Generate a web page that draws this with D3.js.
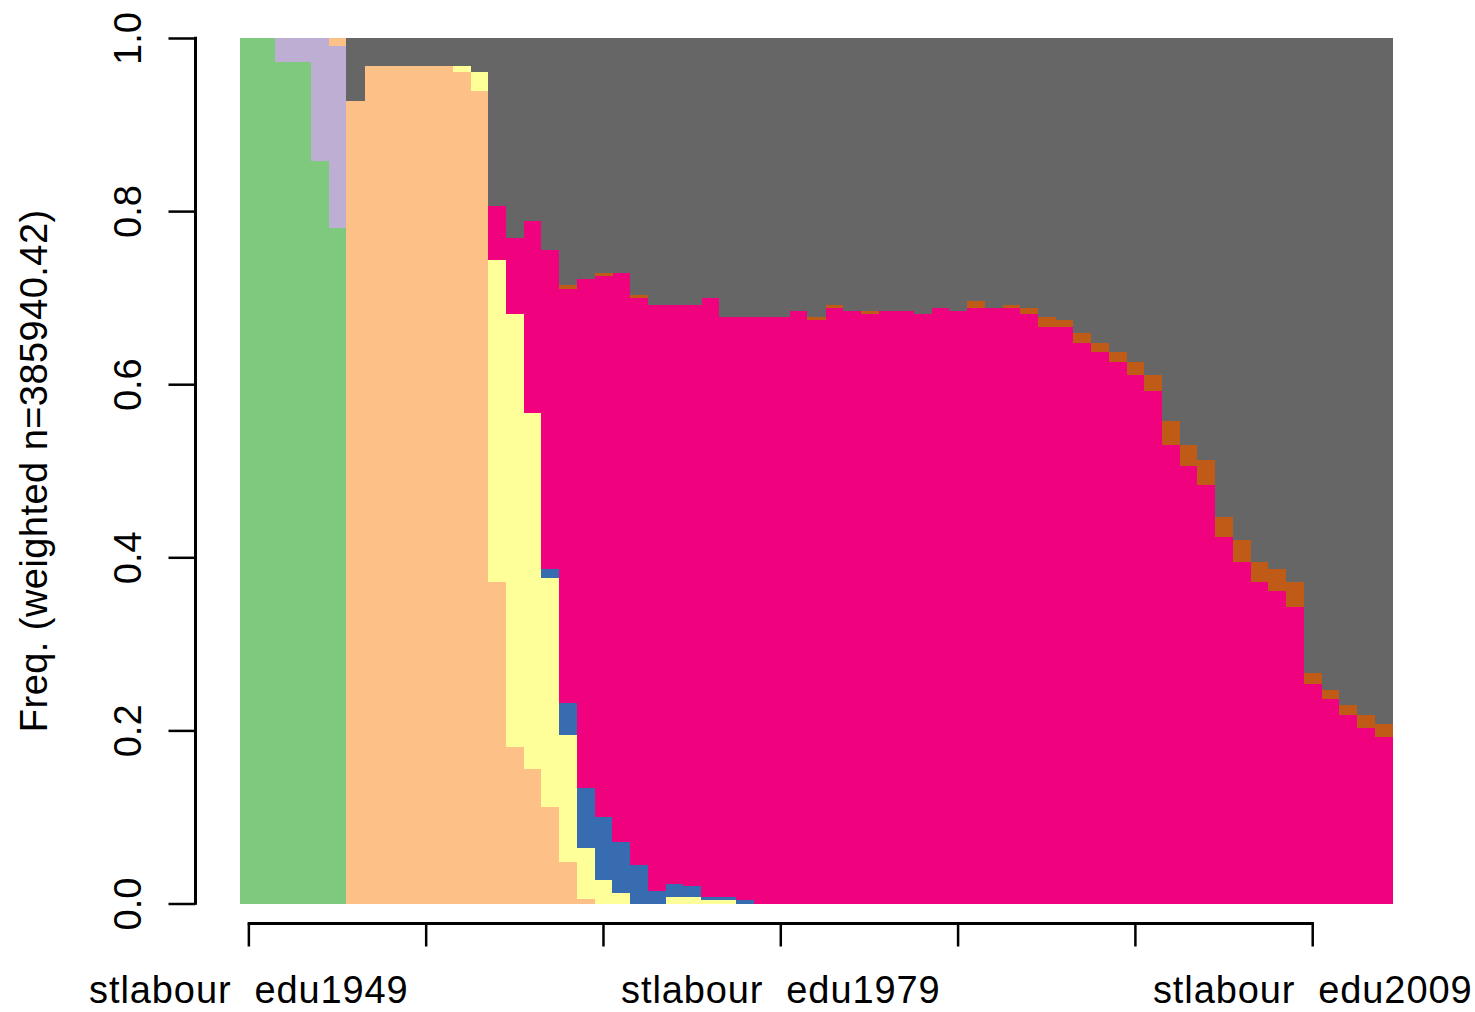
<!DOCTYPE html>
<html>
<head>
<meta charset="utf-8">
<script src="https://cdn.jsdelivr.net/npm/d3@7"></script>
<style>
  html, body { margin: 0; padding: 0; background: #fff; }
  svg { display: block; }
  text { font-family: "Liberation Sans", Arial, sans-serif; fill: #000; }
</style>
</head>
<body>
<svg id="chart" width="1475" height="1012"></svg>
<script>
// ---- data ----
const years = [1949,1950,1951,1952,1953,1954,1955,1956,1957,1958,1959,1960,1961,1962,1963,1964,1965,1966,1967,1968,1969,1970,1971,1972,1973,1974,1975,1976,1977,1978,1979,1980,1981,1982,1983,1984,1985,1986,1987,1988,1989,1990,1991,1992,1993,1994,1995,1996,1997,1998,1999,2000,2001,2002,2003,2004,2005,2006,2007,2008,2009,2010,2011,2012,2013];
const categories = years.map(y => "stlabour  edu" + y);
const tickIndex = [0, 10, 20, 30, 40, 50, 60];
const labelIndex = [0, 30, 60];
const yTicks = [0, 0.2, 0.4, 0.6, 0.8, 1.0];
const yLabel = "Freq. (weighted n=385940.42)";

const stateNames = ["s1", "s2", "s3", "s4", "s5", "s6", "s7", "s8"];
const stateColors = ["#7FC97F", "#BEAED4", "#FDC086", "#FFFF99", "#386CB0", "#F0027F", "#BF5B17", "#666666"];

const s1 = [1,1,.972,.972,.858,.781,0,0,0,0,0,0,0,0,0,0,0,0,0,0,0,0,0,0,0,0,0,0,0,0,0,0,0,0,0,0,0,0,0,0,0,0,0,0,0,0,0,0,0,0,0,0,0,0,0,0,0,0,0,0,0,0,0,0,0];
const s2 = [0,0,.028,.028,.142,.210,0,0,0,0,0,0,0,0,0,0,0,0,0,0,0,0,0,0,0,0,0,0,0,0,0,0,0,0,0,0,0,0,0,0,0,0,0,0,0,0,0,0,0,0,0,0,0,0,0,0,0,0,0,0,0,0,0,0,0];
const s3 = [0,0,0,0,0,.009,.927,.968,.968,.968,.968,.968,.961,.939,.372,.181,.155,.111,.048,.005,0,0,0,0,0,0,0,0,0,0,0,0,0,0,0,0,0,0,0,0,0,0,0,0,0,0,0,0,0,0,0,0,0,0,0,0,0,0,0,0,0,0,0,0,0];
const s4 = [0,0,0,0,0,0,0,0,0,0,0,0,.007,.022,.372,.500,.412,.265,.147,.059,.027,.012,0,0,.008,.008,.004,.004,0,0,0,0,0,0,0,0,0,0,0,0,0,0,0,0,0,0,0,0,0,0,0,0,0,0,0,0,0,0,0,0,0,0,0,0,0];
const s5 = [0,0,0,0,0,0,0,0,0,0,0,0,0,0,0,0,0,.011,.037,.069,.073,.059,.045,.015,.015,.012,.004,.004,.004,0,0,0,0,0,0,0,0,0,0,0,0,0,0,0,0,0,0,0,0,0,0,0,0,0,0,0,0,0,0,0,0,0,0,0,0];
const s6 = [0,0,0,0,0,0,0,0,0,0,0,0,0,0,.062,.088,.221,.368,.478,.589,.625,.658,.655,.677,.669,.672,.692,.670,.674,.678,.678,.685,.674,.688,.685,.681,.685,.685,.681,.688,.685,.688,.688,.688,.681,.666,.666,.648,.637,.626,.611,.592,.530,.505,.483,.424,.394,.372,.361,.343,.254,.236,.218,.203,.192];
const s7 = [0,0,0,0,0,0,0,0,0,0,0,0,0,0,0,0,0,0,.005,0,.004,0,.003,0,0,0,0,0,0,0,0,0,.004,.004,0,.004,0,0,0,0,0,.008,0,.004,.007,.012,.008,.011,.011,.011,.015,.019,.027,.025,.029,.022,.026,.022,.026,.029,.012,.011,.011,.015,.015];
const s8 = [0,0,0,0,0,0,.073,.032,.032,.032,.032,.032,.032,.039,.194,.231,.212,.245,.285,.278,.271,.271,.297,.308,.308,.308,.300,.322,.322,.322,.322,.315,.322,.308,.315,.315,.315,.315,.319,.312,.315,.304,.312,.308,.312,.322,.326,.341,.352,.363,.374,.389,.443,.470,.488,.554,.580,.606,.613,.628,.734,.753,.771,.782,.793];

const series = [s1, s2, s3, s4, s5, s6, s7, s8];

// ---- table for the stack ----
const table = categories.map((c, i) => {
  const row = { cat: c };
  stateNames.forEach((s, k) => { row[s] = series[k][i]; });
  return row;
});

// ---- layout ----
const svg = d3.select("#chart");
const x = d3.scaleBand().domain(categories).range([240, 1392.5]).padding(0);
const y = d3.scaleLinear().domain([0, 1]).range([903.5, 38]);
const color = d3.scaleOrdinal().domain(stateNames).range(stateColors);

const stacked = d3.stack().keys(stateNames)(table);

svg.append("g")
  .selectAll("g")
  .data(stacked)
  .join("g")
  .attr("fill", d => color(d.key))
  .selectAll("rect")
  .data(d => d)
  .join("rect")
  .attr("x", d => x(d.data.cat))
  .attr("width", x.bandwidth() + 0.5)
  .attr("y", d => y(d[1]))
  .attr("height", d => Math.max(0, y(d[0]) - y(d[1])))
  .attr("shape-rendering", "crispEdges");

// ---- x axis ----
const xAxisY = 923.5;
const bw = x.bandwidth();
const xAxis = d3.axisBottom(x)
  .tickValues(tickIndex.map(i => categories[i]))
  .tickSize(23)
  .tickSizeOuter(0)
  .tickFormat((d) => {
    const i = categories.indexOf(d);
    return labelIndex.includes(i) ? d : "";
  });
const gx = svg.append("g").attr("transform", `translate(0,${xAxisY})`).call(xAxis);
gx.select(".domain").remove();
gx.selectAll(".tick line").attr("stroke", "#000").attr("stroke-width", 2.5);
gx.selectAll(".tick text")
  .attr("y", 79.5)
  .attr("dy", 0)
  .style("font-size", "38px")
  .style("letter-spacing", "0.9px")
  .style("white-space", "pre")
  .attr("fill", "#000");
svg.append("line")
  .attr("x1", x(categories[tickIndex[0]]) + bw / 2 - 1.25)
  .attr("x2", x(categories[tickIndex[tickIndex.length - 1]]) + bw / 2 + 1.25)
  .attr("y1", xAxisY).attr("y2", xAxisY)
  .attr("stroke", "#000").attr("stroke-width", 3);

// ---- y axis ----
const yAxisX = 195.5;
const yAxis = d3.axisLeft(y).tickValues(yTicks).tickSize(27).tickSizeOuter(0).tickFormat(d3.format(".1f"));
const gy = svg.append("g").attr("transform", `translate(${yAxisX},0)`).call(yAxis);
gy.select(".domain").remove();
gy.selectAll(".tick line").attr("stroke", "#000").attr("stroke-width", 2.5);
gy.selectAll(".tick text")
  .attr("x", 0).attr("dy", 0)
  .attr("text-anchor", "middle")
  .attr("transform", "translate(-54.5,0) rotate(-90)")
  .style("font-size", "38px")
  .attr("fill", "#000");
svg.append("line")
  .attr("x1", yAxisX).attr("x2", yAxisX)
  .attr("y1", y(1) - 1.25).attr("y2", y(0) + 1.25)
  .attr("stroke", "#000").attr("stroke-width", 3);

// ---- y label ----
svg.append("text")
  .attr("transform", `translate(47,${(y(0) + y(1)) / 2}) rotate(-90)`)
  .attr("text-anchor", "middle")
  .style("font-size", "38px")
  .style("letter-spacing", "0.45px")
  .text(yLabel);
</script>
</body>
</html>
